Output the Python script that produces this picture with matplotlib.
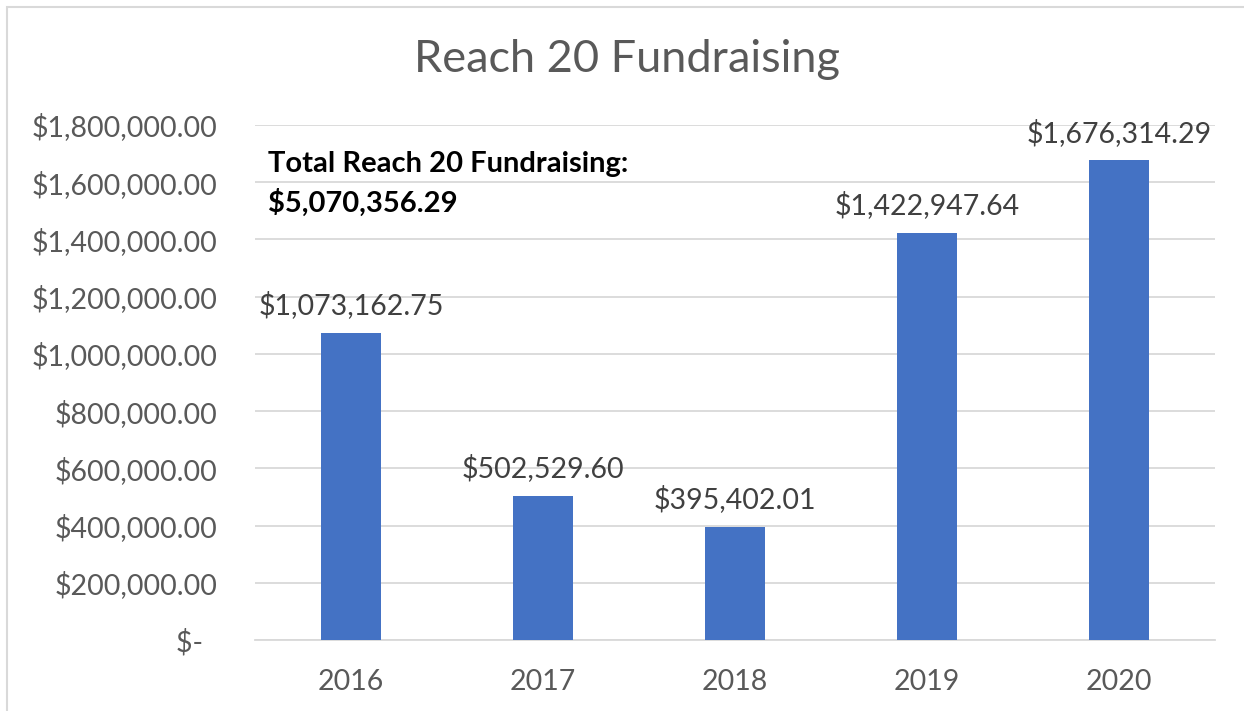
import matplotlib.pyplot as plt
from matplotlib.ticker import FuncFormatter, MultipleLocator
from matplotlib.patches import Rectangle

years = ["2016", "2017", "2018", "2019", "2020"]
amounts = [1073162.75, 502529.60, 395402.01, 1422947.64, 1676314.29]
total_label = "$5,070,356.29"

plt.rcParams['font.family'] = ['Lato', 'DejaVu Sans']

fig = plt.figure(figsize=(12.44, 7.11), dpi=100)
W, H = 1244, 711

# chart area border (top/left visible only)
fig.add_artist(Rectangle((7 / W, -0.1), 1.2, 1 - 7 / H + 0.1, transform=fig.transFigure,
                         fill=False, edgecolor="#D9D9D9", linewidth=1.5))

ax = fig.add_axes([255 / W, 1 - 640 / H, 960 / W, 515 / H])
x = range(len(years))
ax.bar(x, amounts, width=0.31, color="#4472C4", zorder=3)
ax.set_xlim(-0.5, len(years) - 0.5)
ax.set_ylim(0, 1800000)
ax.yaxis.set_major_locator(MultipleLocator(200000))


def money(v, pos=None):
    if v == 0:
        return "$-  "
    return "${:,.2f}".format(v)


ax.yaxis.set_major_formatter(FuncFormatter(money))
ax.set_xticks(list(x))
ax.set_xticklabels(years)
ax.tick_params(axis="both", length=0, labelsize=20.5, labelcolor="#595959")
ax.tick_params(axis="x", pad=21)
ax.tick_params(axis="y", pad=27)
ax.grid(axis="y", color="#D9D9D9", linewidth=1.3, zorder=0)
for s in ["top", "right", "left"]:
    ax.spines[s].set_visible(False)
ax.spines["bottom"].set_color("#D9D9D9")
ax.spines["bottom"].set_linewidth(1.3)

for i, v in enumerate(amounts):
    ax.annotate("${:,.2f}".format(v), (i, v), xytext=(0, 13.5), textcoords="offset points",
                ha="center", va="baseline", fontsize=20.5, color="#404040")

fig.text(627 / W, 1 - 60 / H, "Reach 20 Fundraising", ha="center", va="center",
         fontsize=32.5, color="#595959")
fig.text(268 / W, 1 - 172 / H, "Total Reach 20 Fundraising:",
         ha="left", va="baseline", fontsize=21, fontweight="bold", color="black")
fig.text(268 / W, 1 - 212 / H, total_label,
         ha="left", va="baseline", fontsize=21, fontweight="bold", color="black")

fig.savefig("out.png", dpi=100, facecolor="white")
